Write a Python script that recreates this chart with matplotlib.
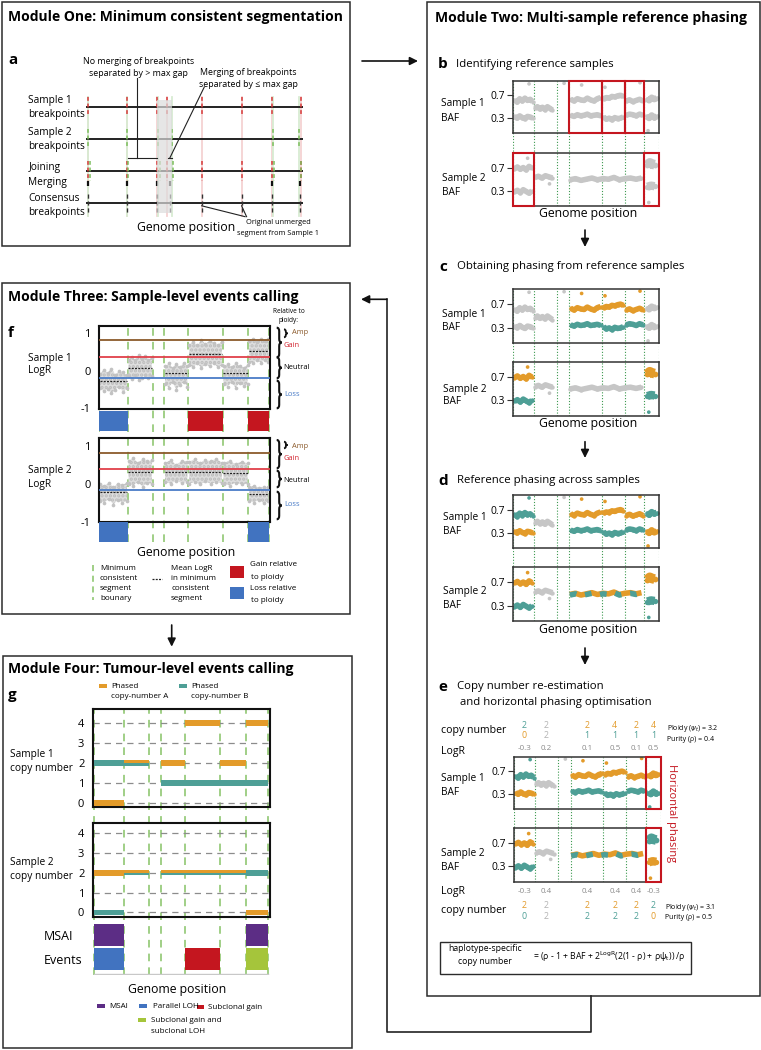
import numpy as np
import matplotlib.pyplot as plt
import matplotlib.transforms as mtransforms
from matplotlib.patches import Rectangle, PathPatch
from matplotlib.path import Path

plt.rcParams['font.family'] = ['Open Sans', 'DejaVu Sans']
plt.rcParams['mathtext.fontset'] = 'dejavusans'
plt.rcParams['hatch.linewidth'] = 1.6

# ---------------------------------------------------------------- data
# module one: breakpoints along the genome (0-100)
s1_breaks = [1.1, 19.0, 32.6, 37.5, 53.3, 71.7, 85.6, 99.1]
s2_breaks = [1.1, 18.7, 33.3, 39.5, 86.0, 98.3]
merged_breaks = [1.1, 18.8, 32.6, 38.5, 85.8, 98.7]
consensus_breaks = [1.1, 18.8, 32.6, 38.5, 53.3, 71.7, 85.7, 98.8]

# module two: minimum consistent segments and BAF bands
baf_bounds = [0, 14.2, 30.1, 38.6, 61, 76.5, 90, 100]
s1_band_x0 = [1, 1, 15, 39.5, 39.5, 62, 62, 77.5, 77.5, 91.5, 91.5]
s1_band_x1 = [13.5, 13.5, 27, 60, 60, 75.5, 75.5, 89, 89, 98.5, 98.5]
s1_band_y = [
    [0.62, 0.58, 0.64, 0.60, 0.65, 0.61, 0.63, 0.59],
    [0.33, 0.30, 0.34, 0.31, 0.29, 0.33, 0.32, 0.30],
    [0.47, 0.50, 0.46, 0.49, 0.45, 0.50, 0.47, 0.44],
    [0.63, 0.60, 0.64, 0.62, 0.61, 0.65, 0.62, 0.60, 0.64, 0.66],
    [0.35, 0.33, 0.36, 0.34, 0.35, 0.37, 0.34, 0.35, 0.36, 0.34],
    [0.64, 0.66, 0.65, 0.68, 0.67, 0.69, 0.70, 0.68],
    [0.32, 0.28, 0.30, 0.27, 0.31, 0.29, 0.30, 0.32],
    [0.60, 0.62, 0.59, 0.61, 0.63, 0.60],
    [0.35, 0.37, 0.36, 0.34, 0.37, 0.35],
    [0.64, 0.61, 0.66, 0.63, 0.65],
    [0.33, 0.30, 0.35, 0.31, 0.33],
]
s1_band_lw = [4, 4, 4, 4, 4, 4, 4, 4, 4, 4.5, 4.5]
s2_band_x0 = [1, 1, 15, 39, 92, 92]
s2_band_x1 = [13, 13, 27, 88, 97, 97]
s2_band_y = [
    [0.68, 0.71, 0.67, 0.70, 0.66, 0.72, 0.69],
    [0.28, 0.31, 0.27, 0.32, 0.29, 0.26, 0.30],
    [0.53, 0.55, 0.52, 0.56, 0.54, 0.52],
    [0.49, 0.51, 0.48, 0.50, 0.52, 0.49, 0.51, 0.50, 0.53, 0.49, 0.51, 0.52, 0.50, 0.52],
    [0.74, 0.78, 0.76, 0.75],
    [0.37, 0.39, 0.38],
]
s2_band_lw = [4, 4, 4, 4, 7, 6]
s1_out_x = [11, 35, 47, 63, 87, 92.5]
s1_out_y = [0.90, 0.91, 0.88, 0.84, 0.92, 0.08]
s1_out_band = [0, 2, 3, 5, 7, 10]
s2_out_x = [10, 25, 93]
s2_out_y = [0.86, 0.42, 0.10]
s2_out_band = [0, 2, 5]
# band colours per panel: g grey, o phased A, t phased B, m mixed
codes_b = ('ggggggggggg', 'gggggg')
codes_c = ('gggotototgg', 'otggot')
codes_d = ('togotototto', 'otgmot')
codes_e = ('togotototot', 'otgmto')
ref_s1 = [3, 4, 5]
ref_s2 = [0, 6]

e_s1_logr = [-0.3, 0.2, None, 0.1, 0.5, 0.1, 0.5]
e_s1_cn_top = [2, 2, None, 2, 4, 2, 4]
e_s1_top_col = 'tg-oooo'
e_s1_cn_bot = [0, 2, None, 1, 1, 1, 1]
e_s1_bot_col = 'og-tttt'
e_s2_logr = [-0.3, 0.4, None, 0.4, 0.4, 0.4, -0.3]
e_s2_cn_top = [2, 2, None, 2, 2, 2, 2]
e_s2_top_col = 'og-ooot'
e_s2_cn_bot = [0, 2, None, 2, 2, 2, 0]
e_s2_bot_col = 'tg-ttto'

# module three: LogR clouds per segment
f_bounds = [0, 16.9, 31.5, 38.3, 52.4, 72.6, 87.7, 100]
f_s1_up = [[-0.08, 0.02, -0.05, 0.06, -0.10, 0.0, -0.04, -0.12],
           [0.30, 0.38, 0.28, 0.42, 0.33, 0.40, 0.30, 0.35], None,
           [0.12, 0.20, 0.08, 0.18, 0.10, 0.22, 0.12],
           [0.70, 0.78, 0.68, 0.82, 0.72, 0.80, 0.75, 0.70, 0.78],
           [0.12, 0.18, 0.10, 0.20, 0.14, 0.08, 0.16],
           [0.80, 0.86, 0.78, 0.84, 0.80, 0.85]]
f_s1_lo = [[-0.45, -0.55, -0.48, -0.60, -0.50, -0.42, -0.56, -0.47],
           [-0.15, -0.22, -0.12, -0.25, -0.18, -0.10, -0.20, -0.15], None,
           [-0.35, -0.45, -0.30, -0.50, -0.38, -0.30, -0.42],
           [0.15, 0.10, 0.20, 0.08, 0.18, 0.12, 0.20, 0.10, 0.15],
           [-0.35, -0.42, -0.30, -0.45, -0.32, -0.40, -0.35],
           [0.25, 0.20, 0.30, 0.22, 0.28, 0.25]]
f_s1_mean = [-0.28, 0.09, None, -0.07, 0.46, -0.07, 0.53]
f_s2_up = [[0.0, -0.05, 0.02, -0.08, 0.0, -0.04, 0.03],
           [0.60, 0.68, 0.55, 0.65, 0.60, 0.62], None,
           [0.55, 0.62, 0.50, 0.60, 0.58],
           [0.58, 0.65, 0.55, 0.62, 0.60, 0.66, 0.56],
           [0.55, 0.60, 0.52, 0.58, 0.54],
           [-0.10, -0.05, -0.12, -0.08, -0.10]]
f_s2_lo = [[-0.45, -0.50, -0.40, -0.55, -0.42, -0.50, -0.45],
           [0.0, -0.05, 0.05, -0.08, 0.02, 0.0], None,
           [0.05, 0.0, 0.08, 0.02, 0.05],
           [0.0, 0.05, -0.02, 0.06, 0.0, 0.04, 0.02],
           [0.0, -0.05, 0.03, -0.02, 0.0],
           [-0.45, -0.50, -0.42, -0.52, -0.45]]
f_s2_mean = [-0.22, 0.30, None, 0.30, 0.31, 0.27, -0.26]
amp_level = [0.82, 0.81]
gain_level = [0.38, 0.39]
loss_level = [-0.20, -0.16]
f_s1_event = ['loss', None, None, None, 'gain', None, 'gain']
f_s2_event = ['loss', None, None, None, None, None, 'loss']

# module four: phased copy numbers and tumour-level events
g_s1_a = [0, 2, None, 2, 4, 2, 4]
g_s1_b = [2, 2, None, 1, 1, 1, 1]
g_s2_a = [2, 2, None, 2, 2, 2, 0]
g_s2_b = [0, 2, None, 2, 2, 2, 2]
g_msai = [1, 0, 0, 0, 0, 0, 1]
g_events = ['Parallel LOH', None, None, None, 'Subclonal gain', None,
            'Subclonal gain and subclonal LOH']

# ---------------------------------------------------------------- style
ORANGE = '#E39B2A'
TEAL = '#4E9F96'
GREY = '#C6C6C6'
RED = '#C4161F'
PURPLE = '#5C2D85'
BLUE = '#4173C0'
LIME = '#A5C53B'
GDOT = '#3D9A50'
GDASH = '#86C266'
CMAP = {'g': GREY, 'o': ORANGE, 't': TEAL}
EVENT_COL = {'Parallel LOH': BLUE, 'Subclonal gain': RED,
             'Subclonal gain and subclonal LOH': LIME}

TITLE, LETTER, SUB, LAB, TICK, GP, SMALL, TINY, ANN = 10, 11, 8.2, 7.3, 7.4, 8.8, 5.8, 5.0, 6.4

W, H = 761, 1050
fig = plt.figure(figsize=(W / 100, H / 100), dpi=100)
cv = fig.add_axes([0, 0, 1, 1])
cv.set_xlim(0, W)
cv.set_ylim(H, 0)
cv.axis('off')


def px_axes(x0, y0, x1, y1):
    ax = fig.add_axes([x0 / W, 1 - y1 / H, (x1 - x0) / W, (y1 - y0) / H])
    ax.set_facecolor('none')
    return ax


def txt(x, y, s, size=7, **kw):
    kw.setdefault('va', 'center')
    cv.text(x, y, s, fontsize=size, **kw)


def box(x0, y0, x1, y1, lw=1.1, color='#2b2b2b'):
    cv.add_patch(Rectangle((x0, y0), x1 - x0, y1 - y0, fill=False, ec=color, lw=lw))


def swatch(x0, y0, x1, y1, color):
    cv.add_patch(Rectangle((x0, y0), x1 - x0, y1 - y0, fc=color, ec='none'))


def arrow(x0, y0, x1, y1):
    cv.annotate('', xy=(x1, y1), xytext=(x0, y0),
                arrowprops=dict(arrowstyle='-|>', color='#111', lw=1.2,
                                mutation_scale=12, shrinkA=0, shrinkB=0))


def brace(x, y0, y1, w, lw=1.5):
    ym = (y0 + y1) / 2
    r = min(w * 0.7, (y1 - y0) / 4)
    xm = x + w * 0.5
    verts = [(x, y0), (xm, y0), (xm, y0 + r), (xm, ym - r), (xm, ym), (x + w, ym),
             (xm, ym), (xm, ym + r), (xm, y1 - r), (xm, y1), (x, y1)]
    codes = [Path.MOVETO, Path.CURVE3, Path.CURVE3, Path.LINETO, Path.CURVE3, Path.CURVE3,
             Path.CURVE3, Path.CURVE3, Path.LINETO, Path.CURVE3, Path.CURVE3]
    cv.add_patch(PathPatch(Path(verts, codes), fill=False, lw=lw, ec='#111'))


# ================================================================ module one
box(2, 2, 350, 246)
txt(8, 17, 'Module One: Minimum consistent segmentation', TITLE, weight='bold')
txt(8, 60, 'a', LETTER, weight='bold')

axa = px_axes(86, 80, 303, 225)
axa.set_xlim(0, 100)
axa.set_ylim(3.69, -0.84)
axa.axis('off')
for b in s1_breaks:
    axa.plot([b, b], [-0.3, 3.4], color='#f5d2d2', lw=1.3, zorder=1)
for b in s2_breaks:
    axa.plot([b, b], [-0.3, 3.4], color='#d8ecd2', lw=1.3, zorder=1)
for r in range(4):
    axa.plot([0, 100], [r, r], color='#222', lw=1.4, zorder=2)
axa.vlines(s1_breaks, -0.3, 0.3, colors='#d63a3a', lw=1.1, linestyles=(0, (2.5, 1.8)), zorder=3)
axa.vlines(s2_breaks, 0.7, 1.3, colors='#7cbd5c', lw=1.1, linestyles=(0, (2.5, 1.8)), zorder=3)
axa.vlines(s1_breaks, 1.7, 2.3, colors='#d63a3a', lw=1.1, linestyles=(0, (2.5, 1.8)), zorder=3)
axa.vlines(np.array(s2_breaks) + 0.6, 1.7, 2.3, colors='#7cbd5c', lw=1.1,
           linestyles=(0, (2.5, 1.8)), zorder=3)
axa.vlines(merged_breaks, 2.3, 2.48, colors='#111', lw=1.6, zorder=3)
axa.vlines(consensus_breaks, 2.72, 3.35, colors='#333', lw=1.0, linestyles=(0, (3, 2)), zorder=3)
axa.add_patch(Rectangle((32.6, -0.22), 6.9, 3.53, fc='#dcdcdc', ec='none', alpha=0.7, zorder=4))
axa.plot([23.4, 23.4], [-0.9, 1.6], color='#222', lw=0.8, clip_on=False, zorder=5)
axa.plot([19.5, 32.6], [1.6, 1.6], color='#222', lw=0.8, zorder=5)
axa.plot([54.5, 38.6], [-0.62, 1.6], color='#222', lw=0.8, clip_on=False, zorder=5)
axa.plot([37.6, 39.8], [1.6, 1.6], color='#222', lw=0.8, zorder=5)
axa.plot([53.3, 73.3], [3.09, 3.43], color='#222', lw=0.8, zorder=5)
axa.plot([71.7, 74.0], [3.09, 3.43], color='#222', lw=0.8, zorder=5)

txt(138.7, 62, 'No merging of breakpoints', ANN, ha='center')
txt(138.7, 73, 'separated by > max gap', ANN, ha='center')
txt(248.3, 72.3, 'Merging of breakpoints', ANN, ha='center')
txt(248.3, 84.7, 'separated by ≤ max gap', ANN, ha='center')
for y, s in [(100.7, 'Sample 1'), (114.3, 'breakpoints'), (132.7, 'Sample 2'),
             (146.3, 'breakpoints'), (167.7, 'Joining'), (182, 'Merging'),
             (198.3, 'Consensus'), (212, 'breakpoints')]:
    txt(28.3, y, s, LAB)
txt(186, 228, 'Genome position', GP, ha='center')
txt(278.3, 223, 'Original unmerged', TINY + 0.3, ha='center')
txt(278.3, 233.3, 'segment from Sample 1', TINY + 0.3, ha='center')

arrow(362, 61, 418, 61)

# ================================================================ module two
box(427, 2, 759.5, 996)
txt(435, 18, 'Module Two: Multi-sample reference phasing', TITLE, weight='bold')


def draw_bands(ax, x0s, x1s, ys, lws, codes, ox, oy, ob):
    for x0, x1, y, lw, c in zip(x0s, x1s, ys, lws, codes):
        x = np.linspace(x0, x1, len(y))
        if c == 'm':
            ax.plot(x, y, color=ORANGE, lw=lw, solid_capstyle='butt')
            ax.plot(x, np.array(y) - 0.01, color=TEAL, lw=lw, dashes=(1.2, 1.6))
        else:
            ax.plot(x, y, color=CMAP[c], lw=lw, solid_capstyle='butt')
            ax.scatter(x, y, s=lw * 2.5, color=CMAP[c], lw=0)
    cols = [CMAP.get(codes[i], ORANGE) for i in ob]
    ax.scatter(ox, oy, s=7, color=cols, lw=0)


def baf_panel(x0, x1, y1t, y1b, y2t, y2b, codes, ref1=(), ref2=(), hbox=()):
    bg = px_axes(x0, y1t, x1, y2b)
    bg.set_xlim(0, 100)
    bg.axis('off')
    for b in baf_bounds:
        bg.axvline(b, color=GDOT, lw=0.8, ls=(0, (1, 1.6)))
    out = []
    specs = [(y1t, y1b, s1_band_x0, s1_band_x1, s1_band_y, s1_band_lw, codes[0],
              s1_out_x, s1_out_y, s1_out_band, list(ref1)),
             (y2t, y2b, s2_band_x0, s2_band_x1, s2_band_y, s2_band_lw, codes[1],
              s2_out_x, s2_out_y, s2_out_band, list(ref2))]
    for yt, yb, bx0, bx1, by, blw, cd, ox, oy, ob, refs in specs:
        ax = px_axes(x0, yt, x1, yb)
        ax.set_xlim(0, 100)
        ax.set_ylim(0.04, 0.95)
        ax.set_xticks([])
        ax.set_yticks([0.3, 0.7])
        ax.set_yticklabels(['0.3', '0.7'])
        ax.tick_params(axis='y', length=4, width=0.8, labelsize=TICK, pad=2, color='#333')
        for sp in ax.spines.values():
            sp.set_color('#333')
            sp.set_linewidth(1.1)
        draw_bands(ax, bx0, bx1, by, blw, cd, ox, oy, ob)
        for i in refs + list(hbox):
            ax.add_patch(Rectangle((baf_bounds[i], 0.04), baf_bounds[i + 1] - baf_bounds[i], 0.91,
                                   fill=False, ec=RED, lw=1.5, clip_on=False, zorder=5))
        out.append(ax)
    return out


# b
txt(438, 64, 'b', LETTER, weight='bold')
txt(456, 64, 'Identifying reference samples', SUB)
baf_panel(513, 659, 81, 133, 153, 206, codes_b, ref_s1, ref_s2)
txt(441, 103.3, 'Sample 1', LAB)
txt(441, 118.3, 'BAF', LAB)
txt(441.7, 178.3, 'Sample 2', LAB)
txt(441.7, 192.7, 'BAF', LAB)
txt(588, 214, 'Genome position', GP, ha='center')
arrow(585, 230, 585, 247)

# c
txt(439, 267, 'c', LETTER, weight='bold')
txt(457, 267, 'Obtaining phasing from reference samples', SUB)
baf_panel(513, 659, 289.3, 343.3, 361.7, 415.7, codes_c)
txt(442, 315, 'Sample 1', LAB)
txt(442, 327.7, 'BAF', LAB)
txt(443, 389.3, 'Sample 2', LAB)
txt(443, 401.7, 'BAF', LAB)
txt(588, 424, 'Genome position', GP, ha='center')
arrow(585, 441.7, 585, 458)

# d
txt(438, 480.7, 'd', LETTER, weight='bold')
txt(457, 480.7, 'Reference phasing across samples', SUB)
baf_panel(513, 659, 495, 548.3, 567.3, 621, codes_d)
txt(443, 517.3, 'Sample 1', LAB)
txt(443, 531.7, 'BAF', LAB)
txt(443, 591.7, 'Sample 2', LAB)
txt(443, 605, 'BAF', LAB)
txt(588, 630, 'Genome position', GP, ha='center')
arrow(585, 648, 585, 665)

# e
txt(438, 687, 'e', LETTER, weight='bold')
txt(457, 687, 'Copy number re-estimation', SUB)
txt(460, 702.7, 'and horizontal phasing optimisation', SUB)
e1, e2 = baf_panel(514, 660.7, 756.7, 809.3, 828.3, 881.7, codes_e, hbox=[6])
txt(441, 778.3, 'Sample 1', LAB)
txt(441, 792.7, 'BAF', LAB)
txt(441, 853.3, 'Sample 2', LAB)
txt(441, 867.7, 'BAF', LAB)
txt(672, 813, 'Horizontal phasing', 8, ha='center', rotation=270, color=RED)

ecol = {'o': ORANGE, 't': TEAL, 'g': '#b3b3b3'}
tr = mtransforms.blended_transform_factory(e1.transData, cv.transData)
rows_e = [(e_s1_cn_top, e_s1_top_col, 725), (e_s1_cn_bot, e_s1_bot_col, 735.7),
          (e_s2_cn_top, e_s2_top_col, 905), (e_s2_cn_bot, e_s2_bot_col, 916.7)]
centers = [(baf_bounds[i] + baf_bounds[i + 1]) / 2 for i in range(7)]
for vals, cols, y in rows_e:
    for xc, v, c in zip(centers, vals, cols):
        if v is not None:
            cv.text(xc, y, str(v), transform=tr, fontsize=6.4, color=ecol[c], ha='center', va='center')
for vals, y in [(e_s1_logr, 748.3), (e_s2_logr, 891.7)]:
    for xc, v in zip(centers, vals):
        if v is not None:
            cv.text(xc, y, f'{v:.1f}', transform=tr, fontsize=5.8, color='#8a8a8a', ha='center', va='center')
txt(441, 730, 'copy number', LAB + 0.3)
txt(441, 751.7, 'LogR', LAB + 0.3)
txt(441, 891.7, 'LogR', LAB + 0.3)
txt(441, 910.7, 'copy number', LAB + 0.3)
txt(666.7, 728.3, 'Ploidy ($\\psi_t$) = 3.2', TINY)
txt(666.7, 739.3, 'Purity (ρ) = 0.4', TINY)
txt(665, 907.3, 'Ploidy ($\\psi_t$) = 3.1', TINY)
txt(665, 917.7, 'Purity (ρ) = 0.5', TINY)

box(440, 941.7, 690.7, 974.3, lw=1.0)
txt(485, 948.3, 'haplotype-specific', 6.2, ha='center')
txt(485, 961.7, 'copy number', 6.2, ha='center')
txt(533, 957.3, '= (ρ - 1 + BAF + 2$^{\\mathrm{LogR}}$(2(1 - ρ) + ρψ$_{\\mathrm{t}}$)) /ρ', 6.2)

# connector back to module three
cv.plot([591, 591, 386.7, 386.7], [996, 1031.7, 1031.7, 299.3], color='#222', lw=1.2)
arrow(386.7, 299.3, 361, 299.3)

# ================================================================ module three
box(2, 283.3, 350, 614)
txt(8, 296.7, 'Module Three: Sample-level events calling', TITLE, weight='bold')
txt(8, 333.3, 'f', LETTER, weight='bold')

fbg = px_axes(99, 326, 270, 542.3)
fbg.set_xlim(0, 100.4)
fbg.axis('off')


def logr_panel(y0, y1, ups, los, means, k):
    ax = px_axes(99, y0, 270, y1)
    ax.set_xlim(0, 100.4)
    ax.set_ylim(-1.02, 1.2)
    ax.set_xticks([])
    ax.set_yticks([-1, 0, 1])
    ax.set_yticklabels(['-1', '0', '1'])
    ax.tick_params(axis='y', length=0, labelsize=TICK + 0.6, pad=6)
    for sp in ax.spines.values():
        sp.set_color('#111')
        sp.set_linewidth(1.5)
    for i, (u, l, m) in enumerate(zip(ups, los, means)):
        if u is None:
            continue
        x = np.linspace(f_bounds[i] + 0.5, f_bounds[i + 1] - 0.5, len(u))
        ax.fill_between(x, l, u, facecolor='#dedede', edgecolor='#bcbcbc', hatch='....',
                        lw=0, zorder=1)
        ax.scatter(np.r_[x, x], np.r_[u, l], s=7, color='#c2c2c2', lw=0, zorder=1)
        ax.hlines(m, f_bounds[i] + 0.3, f_bounds[i + 1] - 0.3, colors='#222', lw=0.9,
                  linestyles=(0, (1.6, 1.0)), zorder=4)
    ax.axhline(amp_level[k], color='#8B5A2B', lw=1.3, zorder=3)
    ax.axhline(gain_level[k], color='#E0404A', lw=1.3, zorder=3)
    ax.axhline(loss_level[k], color='#4A7CC7', lw=1.3, zorder=3)
    return ax


def event_strip(y0, y1, events):
    ax = px_axes(99, y0, 270, y1)
    ax.set_xlim(0, 100.4)
    ax.set_ylim(0, 1)
    ax.axis('off')
    for i, e in enumerate(events):
        if e:
            ax.bar(f_bounds[i], 1, f_bounds[i + 1] - f_bounds[i], align='edge',
                   color=RED if e == 'gain' else BLUE, lw=0)


logr_panel(326, 409, f_s1_up, f_s1_lo, f_s1_mean, 0)
event_strip(411, 430.7, f_s1_event)
logr_panel(438.3, 522.3, f_s2_up, f_s2_lo, f_s2_mean, 1)
event_strip(522.3, 542.3, f_s2_event)
for b in f_bounds:
    fbg.axvline(b, color=GDASH, lw=1.1, ls=(0, (5, 4)), zorder=6)

txt(27.7, 358.3, 'Sample 1', LAB)
txt(27.7, 371, 'LogR', LAB)
txt(27.7, 470.7, 'Sample 2', LAB)
txt(27.7, 484, 'LogR', LAB)
txt(288.5, 311.5, 'Relative to', TINY - 0.3, ha='center')
txt(288.5, 320, 'ploidy:', TINY - 0.3, ha='center')
for (a0, a1, g0, g1, n0, n1, l0, l1, ya, yg, yn, yl) in [
        (329.3, 337.3, 327.7, 357.3, 357.3, 378.3, 380.7, 408.3, 333, 345.7, 367.7, 394.3),
        (441.7, 448.3, 440, 468.3, 470.7, 487.3, 491.7, 519.3, 446, 459, 481, 505)]:
    brace(284, a0, a1, 3.5, lw=1.3)
    brace(276.7, g0, g1, 5)
    brace(276.7, n0, n1, 5)
    brace(276.7, l0, l1, 5)
    txt(292, ya, 'Amp', TINY + 0.4, color='#8B5A2B')
    txt(284, yg, 'Gain', TINY + 0.4, color='#D2232E')
    txt(283.5, yn, 'Neutral', TINY + 0.4)
    txt(284, yl, 'Loss', TINY + 0.4, color='#4A7CC7')

txt(186, 552.3, 'Genome position', GP, ha='center')
cv.plot([93.3, 93.3], [565, 600], color=GDASH, lw=1.1, ls=(0, (4, 3)))
for y, s in zip([568.3, 578.7, 589, 599], ['Minimum', 'consistent', 'segment', 'bounary']):
    txt(100, y, s, SMALL)
cv.plot([151.7, 162.3], [579.3, 579.3], color='#222', lw=0.9, ls=(0, (1.6, 1.0)))
for y, s in zip([568.3, 578.7, 589, 599], ['Mean LogR', 'in minimum', 'consistent', 'segment']):
    txt(171, y, s, SMALL)
swatch(230, 566, 244.3, 577.7, RED)
swatch(230, 587.3, 244.3, 599, BLUE)
txt(250, 565, 'Gain relative', SMALL)
txt(251, 577.3, 'to ploidy', SMALL)
txt(250, 588.7, 'Loss relative', SMALL)
txt(251, 600.7, 'to ploidy', SMALL)

arrow(171.7, 625, 171.7, 646.7)

# ================================================================ module four
box(2.7, 655.7, 352.3, 1048)
txt(8, 669, 'Module Four: Tumour-level events calling', TITLE, weight='bold')
txt(8, 695, 'g', LETTER, weight='bold')
swatch(99, 684.3, 106.7, 688.3, ORANGE)
txt(111, 686, 'Phased', SMALL)
txt(111, 696.7, 'copy-number A', SMALL)
swatch(179, 684.3, 186.7, 688.3, TEAL)
txt(191, 686, 'Phased', SMALL)
txt(191, 696.7, 'copy-number B', SMALL)

gbg = px_axes(92.7, 709.3, 270, 975)
gbg.set_xlim(-0.9, 101.3)
gbg.axis('off')


def cn_panel(y0, y1, ylim, A, B):
    ax = px_axes(92.7, y0, 270, y1)
    ax.set_xlim(-0.9, 101.3)
    ax.set_ylim(*ylim)
    ax.set_xticks([])
    ax.set_yticks(range(5))
    ax.tick_params(axis='y', length=0, labelsize=TICK + 0.6, pad=6)
    for sp in ax.spines.values():
        sp.set_color('#111')
        sp.set_linewidth(1.5)
    for v in range(5):
        ax.axhline(v, color='#8c8c8c', lw=0.9, ls=(0, (5, 4)), zorder=1)
    for i, (a, b) in enumerate(zip(A, B)):
        if a is None:
            continue
        l, w = f_bounds[i], f_bounds[i + 1] - f_bounds[i]
        if a == b:
            ax.bar(l, 0.15, w, bottom=a, align='edge', color=ORANGE, lw=0, zorder=3)
            ax.bar(l, 0.13, w, bottom=b - 0.13, align='edge', color=TEAL, lw=0, zorder=3)
        else:
            ax.bar(l, 0.28, w, bottom=a - 0.14, align='edge', color=ORANGE, lw=0, zorder=3)
            ax.bar(l, 0.28, w, bottom=b - 0.14, align='edge', color=TEAL, lw=0, zorder=3)
    return ax


cn_panel(709.3, 807.3, (-0.2, 4.7), g_s1_a, g_s1_b)
cn_panel(822.7, 916.7, (-0.22, 4.54), g_s2_a, g_s2_b)

axev = px_axes(92.7, 924, 270, 975)
axev.set_xlim(-0.9, 101.3)
axev.set_ylim(2.32, 0)
axev.axis('off')
for i, (m, e) in enumerate(zip(g_msai, g_events)):
    l, w = f_bounds[i], f_bounds[i + 1] - f_bounds[i]
    if m:
        axev.bar(l, 1, w, bottom=0, align='edge', color=PURPLE, lw=0)
    if e:
        axev.bar(l, 0.99, w, bottom=1.1, align='edge', color=EVENT_COL[e], lw=0)
axev.plot([0, 100], [2.28, 2.28], color='#c8c8c8', lw=1)
for b in f_bounds:
    gbg.axvline(b, color=GDASH, lw=1.1, ls=(0, (5, 4)), zorder=6)

txt(10, 755, 'Sample 1', LAB)
txt(10, 769, 'copy number', LAB)
txt(10, 862.3, 'Sample 2', LAB)
txt(10, 876.7, 'copy number', LAB)
txt(43.3, 936, 'MSAI', 9)
txt(43.3, 960.7, 'Events', 9)
txt(176.7, 990, 'Genome position', GP, ha='center')
swatch(97.3, 1004.3, 105, 1008.3, PURPLE)
txt(109.3, 1006.3, 'MSAI', SMALL)
swatch(139, 1004.3, 146.7, 1008.3, BLUE)
txt(152.7, 1006, 'Parallel LOH', SMALL)
swatch(196.7, 1005, 204.3, 1009, RED)
txt(208.3, 1007.3, 'Subclonal gain', SMALL)
swatch(137.7, 1018.3, 145.7, 1022.3, LIME)
txt(150.7, 1020.7, 'Subclonal gain and', SMALL)
txt(150.7, 1031.3, 'subclonal LOH', SMALL)

fig.savefig('out.png', dpi=100)
